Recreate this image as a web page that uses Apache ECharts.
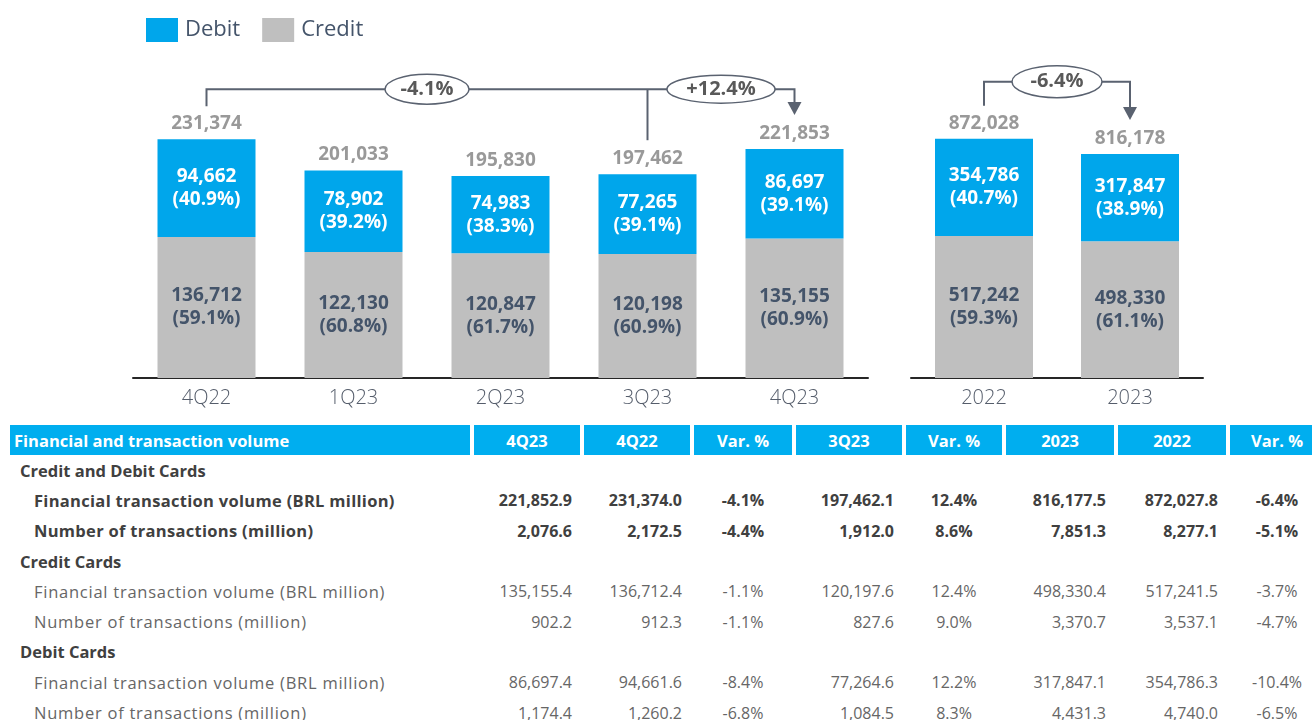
<!DOCTYPE html>
<html><head><meta charset="utf-8">
<script src="https://cdn.jsdelivr.net/npm/echarts@6/dist/echarts.min.js"></script>
<style>
html,body{margin:0;padding:0;width:1312px;height:720px;overflow:hidden;background:#fff;}
#chart{position:absolute;left:0;top:0;width:1312px;height:420px;}
#tbl{position:absolute;left:6px;top:425px;width:1322px;border-collapse:separate;border-spacing:4px 0;table-layout:fixed;font-family:'Open Sans',sans-serif;}
#tbl th{background:#00aeef;color:#fff;font-weight:700;font-size:16.5px;height:30px;padding:0;text-align:center;white-space:nowrap;}
#tbl th.first{text-align:left;padding-left:4px;}
#tbl td{height:30.3px;padding:0;white-space:nowrap;font-size:16px;color:#666666;font-weight:400;}
#tbl td.sec{padding-left:10px;font-weight:700;color:#404040;font-size:16.5px;}
#tbl td.lab{padding-left:24px;font-size:16.5px;letter-spacing:0.75px;}
#tbl tr.bold td{font-weight:700;color:#404040;}
#tbl tr.bold td.lab{font-size:16.5px;letter-spacing:0.3px;}
#tbl td.num{text-align:right;padding-right:8px;}
#tbl td.var{text-align:center;}
</style></head>
<body>
<div id="chart"></div>
<table id="tbl"></table>
<script>
// ---- chart data ----
const quarters = ['4Q22','1Q23','2Q23','3Q23','4Q23'];
const debitQ = [94662, 78902, 74983, 77265, 86697];
const creditQ = [136712, 122130, 120847, 120198, 135155];
const totalQ = [231374, 201033, 195830, 197462, 221853];
const debitShareQ = ['40.9%','39.2%','38.3%','39.1%','39.1%'];
const creditShareQ = ['59.1%','60.8%','61.7%','60.9%','60.9%'];
const years = ['2022','2023'];
const debitY = [354786, 317847];
const creditY = [517242, 498330];
const totalY = [872028, 816178];
const debitShareY = ['40.7%','38.9%'];
const creditShareY = ['59.3%','61.1%'];
const varYoYQuarter = '-4.1%';
const varQoQ = '+12.4%';
const varYear = '-6.4%';

// ---- table data ----
const tableHeader = ['Financial and transaction volume','4Q23','4Q22','Var. %','3Q23','Var. %','2023','2022','Var. %'];
const varColumns = [2,4,7];
const rowLabels = ['Credit and Debit Cards','Financial transaction volume (BRL million)','Number of transactions (million)',
  'Credit Cards','Financial transaction volume (BRL million)','Number of transactions (million)',
  'Debit Cards','Financial transaction volume (BRL million)','Number of transactions (million)'];
const rowKinds = ['sec','bold','bold','sec','plain','plain','sec','plain','plain'];
const rowTotalVolume = ['221,852.9','231,374.0','-4.1%','197,462.1','12.4%','816,177.5','872,027.8','-6.4%'];
const rowTotalCount = ['2,076.6','2,172.5','-4.4%','1,912.0','8.6%','7,851.3','8,277.1','-5.1%'];
const rowCreditVolume = ['135,155.4','136,712.4','-1.1%','120,197.6','12.4%','498,330.4','517,241.5','-3.7%'];
const rowCreditCount = ['902.2','912.3','-1.1%','827.6','9.0%','3,370.7','3,537.1','-4.7%'];
const rowDebitVolume = ['86,697.4','94,661.6','-8.4%','77,264.6','12.2%','317,847.1','354,786.3','-10.4%'];
const rowDebitCount = ['1,174.4','1,260.2','-6.8%','1,084.5','8.3%','4,431.3','4,740.0','-6.5%'];
const rowValues = [null,rowTotalVolume,rowTotalCount,null,rowCreditVolume,rowCreditCount,null,rowDebitVolume,rowDebitCount];

// ---- styles ----
const FONT = "'Open Sans', sans-serif";
const BLUE = '#00a6eb', GREY = '#bfbfbf';
const LINE = '#5a6270';
const colWidths = [460,106,106,98,106,96,108,108,94];

// build table
(function(){
  const t = document.getElementById('tbl');
  let cg = '<colgroup>' + colWidths.map(w=>'<col style="width:'+w+'px">').join('') + '</colgroup>';
  let h = '<tr>' + tableHeader.map((s,i)=>'<th class="'+(i===0?'first':'')+'">'+s+'</th>').join('') + '</tr>';
  let body = '';
  rowLabels.forEach((lab,r)=>{
    const kind = rowKinds[r];
    const vals = rowValues[r];
    body += '<tr class="'+(kind==='bold'?'bold':'')+'"><td class="'+(kind==='sec'?'sec':'lab')+'">'+lab+'</td>';
    for(let c=0;c<8;c++){
      const v = vals ? vals[c] : '';
      body += '<td class="'+(varColumns.includes(c)?'var':'num')+'">'+v+'</td>';
    }
    body += '</tr>';
  });
  t.innerHTML = cg + h + body;
})();

const fmt = v => v.toLocaleString('en-US');
const chart = echarts.init(document.getElementById('chart'));

function stackLabel(color, shares){
  return {show:true, position:'inside', color:color, fontFamily:FONT, fontWeight:'bold', fontSize:19, lineHeight:23,
    formatter: p => fmt(p.value) + '\n(' + shares[p.dataIndex] + ')'};
}
function totalSeries(idx, data){
  return {type:'scatter', xAxisIndex:idx, yAxisIndex:idx, data:data, symbolSize:0, silent:true,
    label:{show:true, position:'top', distance:6, color:'#7f7f7f', fontFamily:FONT, fontWeight:'bold', fontSize:19,
      formatter:p=>fmt(p.value)}};
}
const axisCommon = {type:'category', axisTick:{show:false},
  axisLine:{lineStyle:{color:'#262626', width:2}},
  axisLabel:{color:'#555d6b', fontSize:20, fontWeight:300, fontFamily:FONT, margin:10}};

chart.setOption({
  animation:false,
  legend:{data:['Debit','Credit'], left:141, top:13, icon:'rect', itemWidth:32, itemHeight:24, itemGap:22,
    textStyle:{fontSize:22, color:'#44546a', fontFamily:FONT, padding:[0,0,0,2]}},
  grid:[{left:133, width:735, top:120, height:258}, {left:911, width:292, top:120, height:258}],
  xAxis:[Object.assign({gridIndex:0, data:quarters}, axisCommon), Object.assign({gridIndex:1, data:years}, axisCommon)],
  yAxis:[{gridIndex:0, type:'value', min:0, max:250000, show:false, splitLine:{show:false}},
         {gridIndex:1, type:'value', min:0, max:940000, show:false, splitLine:{show:false}}],
  series:[
    {name:'Credit', type:'bar', stack:'q', xAxisIndex:0, yAxisIndex:0, data:creditQ, barWidth:98, itemStyle:{color:GREY}, label:stackLabel('#44546a', creditShareQ)},
    {name:'Debit', type:'bar', stack:'q', xAxisIndex:0, yAxisIndex:0, data:debitQ, barWidth:98, itemStyle:{color:BLUE}, label:stackLabel('#ffffff', debitShareQ)},
    totalSeries(0, totalQ),
    {name:'Credit', type:'bar', stack:'y', xAxisIndex:1, yAxisIndex:1, data:creditY, barWidth:98, itemStyle:{color:GREY}, label:stackLabel('#44546a', creditShareY)},
    {name:'Debit', type:'bar', stack:'y', xAxisIndex:1, yAxisIndex:1, data:debitY, barWidth:98, itemStyle:{color:BLUE}, label:stackLabel('#ffffff', debitShareY)},
    totalSeries(1, totalY)
  ]
});

// ---- annotations positioned from the axes ----
function px(i, idx, val){ return chart.convertToPixel({xAxisIndex:i, yAxisIndex:i}, [idx, val]); }
const g = [];
const lineStyle = {stroke:LINE, lineWidth:2, fill:null};
function pill(cx, cy, rx, ry, txt){
  g.push({type:'ellipse', shape:{cx:cx, cy:cy, rx:rx, ry:ry}, style:{fill:'#fff', stroke:LINE, lineWidth:1.5}, z:10});
  g.push({type:'text', x:cx, y:cy, style:{text:txt, align:'center', verticalAlign:'middle', textAlign:'center', textVerticalAlign:'middle',
    fill:'#595959', font:"bold 20px 'Open Sans', sans-serif"}, z:11});
}
function arrow(x, tipY){
  g.push({type:'polygon', shape:{points:[[x-7,tipY-13],[x+7,tipY-13],[x,tipY]]}, style:{fill:LINE}, z:9});
}
// quarterly
const a0 = px(0,0,totalQ[0]), a3 = px(0,3,totalQ[3]), a4 = px(0,4,totalQ[4]);
const qLineY = px(0,0,Math.max.apply(null,totalQ))[1] - 50;
g.push({type:'polyline', shape:{points:[[a0[0],a0[1]-33],[a0[0],qLineY],[a4[0],qLineY],[a4[0],a4[1]-46]]}, style:lineStyle, z:8});
g.push({type:'line', shape:{x1:a3[0], y1:qLineY, x2:a3[0], y2:a3[1]-34}, style:lineStyle, z:8});
arrow(a4[0], a4[1]-34);
pill((a0[0]+a3[0])/2, qLineY, 42, 15, varYoYQuarter);
pill((a3[0]+a4[0])/2, qLineY, 54, 14, varQoQ);
// annual
const b0 = px(1,0,totalY[0]), b1 = px(1,1,totalY[1]);
const yLineY = b0[1] - 57;
g.push({type:'polyline', shape:{points:[[b0[0],b0[1]-33],[b0[0],yLineY],[b1[0],yLineY],[b1[0],b1[1]-46]]}, style:lineStyle, z:8});
arrow(b1[0], b1[1]-34);
pill((b0[0]+b1[0])/2, yLineY, 45, 16, varYear);
chart.setOption({graphic:g});
</script>
</body></html>
